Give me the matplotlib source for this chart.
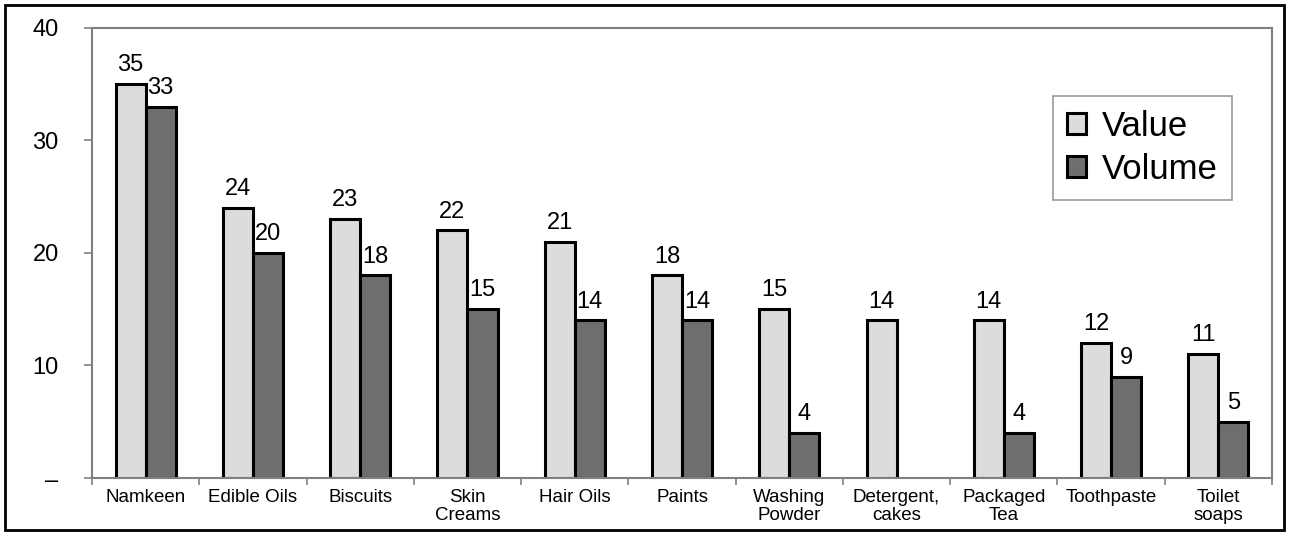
import numpy as np
import matplotlib
matplotlib.use("Agg")
import matplotlib.pyplot as plt
from matplotlib.patches import Rectangle

categories = ["Namkeen", "Edible Oils", "Biscuits", "Skin\nCreams", "Hair Oils", "Paints",
              "Washing\nPowder", "Detergent,\ncakes", "Packaged\nTea", "Toothpaste", "Toilet\nsoaps"]
value = [35, 24, 23, 22, 21, 18, 15, 14, 14, 12, 11]
volume = [33, 20, 18, 15, 14, 14, 4, np.nan, 4, 9, 5]
y_ticks = [0, 10, 20, 30, 40]
y_labels = ["\u2013", "10", "20", "30", "40"]

plt.rcParams['font.family'] = ['Liberation Sans', 'DejaVu Sans']

fig = plt.figure(figsize=(12.89, 5.36), dpi=100)
ax = fig.add_axes([0.0714, 0.1082, 0.9154, 0.8396])

# outer border around the whole chart
fig.patches.append(Rectangle((0.004, 0.011), 0.992, 0.98, transform=fig.transFigure,
                             fill=False, edgecolor="black", linewidth=2))

x = np.arange(len(categories))
w = 0.28
ax.bar(x - w / 2, value, w, color="#dcdcdc", edgecolor="black", linewidth=2.2, label="Value")
ax.bar(x + w / 2, volume, w, color="#6e6e6e", edgecolor="black", linewidth=2.2, label="Volume")

for xi, v in zip(x, value):
    ax.text(xi - w / 2, v + 0.7, f"{v:g}", ha="center", va="bottom", fontsize=17)
for xi, v in zip(x, volume):
    if not np.isnan(v):
        ax.text(xi + w / 2, v + 0.7, f"{v:g}", ha="center", va="bottom", fontsize=17)

ax.set_xlim(-0.5, len(categories) - 0.5)
ax.set_ylim(0, 40)
ax.set_yticks(y_ticks)
ax.set_yticklabels(y_labels, fontsize=17)
ax.tick_params(axis="y", direction="out", length=6, width=1.2, color="#808080", pad=18)

ax.set_xticks(np.arange(len(categories) + 1) - 0.5)
ax.set_xticklabels([])
ax.set_xticks(x, minor=True)
ax.set_xticklabels(categories, minor=True, fontsize=13.5, linespacing=1.1)
ax.tick_params(axis="x", which="major", direction="out", length=5, width=1.2, color="#808080")
ax.tick_params(axis="x", which="minor", length=0, pad=8)

for s in ax.spines.values():
    s.set_color("#808080")
    s.set_linewidth(1.5)

leg = ax.legend(loc="upper right", bbox_to_anchor=(0.966, 0.849), fontsize=25,
                fancybox=False, edgecolor="#808080", handlelength=0.55, handleheight=0.55,
                handletextpad=0.45, labelspacing=0.3, borderpad=0.4, borderaxespad=0)
leg.get_frame().set_linewidth(1.2)

fig.savefig("out.png", dpi=100)
